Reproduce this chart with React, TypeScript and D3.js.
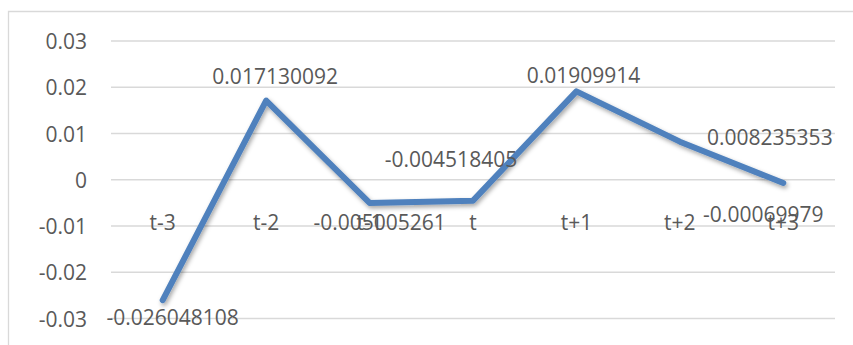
import React from "react";
import * as d3 from "d3";

// Series
const categories: string[] = ["t-3", "t-2", "t-1", "t", "t+1", "t+2", "t+3"];
const values: number[] = [
  -0.026048108, 0.017130092, -0.005005261, -0.004518405, 0.01909914, 0.008235353, -0.00069979,
];
const yTicks: number[] = [0.03, 0.02, 0.01, 0, -0.01, -0.02, -0.03];

// Data label offsets from each point (px)
const labelOffsets: [number, number][] = [
  [10, 17],
  [9, -25],
  [10, 19],
  [-22, -42],
  [7, -16],
  [90, -5],
  [-20, 31],
];

const W = 853;
const H = 345;
const plot = { left: 111, right: 835, top: 41, bottom: 318.5 };
const FONT = "'Open Sans', 'Liberation Sans', sans-serif";
const TEXT = "#595959";

const tickFormat = (t: number) => (t === 0 ? "0" : d3.format(".2f")(t).replace("\u2212", "-"));

export default function App() {
  const x = d3
    .scaleBand<string>()
    .domain(categories)
    .range([plot.left, plot.right]);
  const y = d3.scaleLinear().domain([-0.03, 0.03]).range([plot.bottom, plot.top]);
  const cx = (c: string) => (x(c) ?? 0) + x.bandwidth() / 2;

  const line = d3
    .line<number>()
    .x((_, i) => cx(categories[i]))
    .y((v) => y(v));

  return (
    <svg
      width={W}
      height={H}
      style={{ position: "absolute", left: 0, top: 0, background: "#fff" }}
      fontFamily={FONT}
    >
      <defs>
        <filter id="lineShadow" x="-10%" y="-10%" width="120%" height="130%">
          <feDropShadow dx="1.5" dy="2.5" stdDeviation="2" floodColor="#000" floodOpacity="0.35" />
        </filter>
      </defs>
      {/* chart frame */}
      <path d={`M8.5,${H} V11.5 H${W}`} fill="none" stroke="#D9D9D9" strokeWidth={1.3} />

      {/* gridlines */}
      {yTicks.map((t) => (
        <line
          key={t}
          x1={plot.left}
          x2={plot.right}
          y1={y(t)}
          y2={y(t)}
          stroke="#D9D9D9"
          strokeWidth={1.3}
        />
      ))}

      {/* y tick labels */}
      {yTicks.map((t) => (
        <text
          key={"l" + t}
          x={87}
          y={y(t)}
          textAnchor="end"
          dominantBaseline="central"
          fontSize={21}
          fill={TEXT}
        >
          {tickFormat(t)}
        </text>
      ))}

      {/* category labels */}
      {categories.map((c) => (
        <text
          key={c}
          x={cx(c)}
          y={y(-0.0092)}
          textAnchor="middle"
          dominantBaseline="central"
          fontSize={21}
          fill={TEXT}
        >
          {c}
        </text>
      ))}

      {/* series line */}
      <path
        d={line(values) ?? ""}
        fill="none"
        stroke="#4F81BD"
        strokeWidth={6}
        strokeLinecap="round"
        strokeLinejoin="round"
        filter="url(#lineShadow)"
      />

      {/* data labels */}
      {values.map((v, i) => (
        <text
          key={"d" + i}
          x={cx(categories[i]) + labelOffsets[i][0]}
          y={y(v) + labelOffsets[i][1]}
          textAnchor="middle"
          dominantBaseline="central"
          fontSize={21}
          fill={TEXT}
        >
          {String(v)}
        </text>
      ))}
    </svg>
  );
}
